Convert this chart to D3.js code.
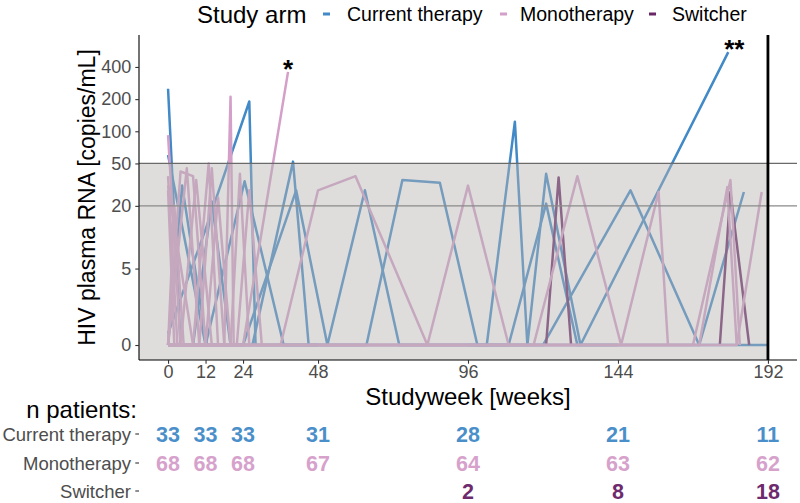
<!DOCTYPE html>
<html><head><meta charset="utf-8">
<script src="https://cdn.jsdelivr.net/npm/d3@7"></script>
<style>body{margin:0;background:#fff} text{font-family:"Liberation Sans",Arial,sans-serif}</style>
</head><body><svg id="c" width="800" height="503"></svg>
<script>
// ---------- data ----------
const arms = ["Current therapy", "Monotherapy", "Switcher"];
const armColors = ["#4189c7", "#d49fc9", "#6a2767"];
const textColors = ["#4a8fc9", "#d6a2cc", "#6e2a6c"];

// each patient: [week, HIV RNA copies/mL]
const currentTherapy = [
  [[0,250],[4,0],[12,0]],
  [[0,60],[12,0],[24,0]],
  [[0,0],[4.5,31],[12.4,0]],
  [[0,0.5],[12,12],[26,190],[28,0],[48,0]],
  [[12,0],[24.5,34],[37,0],[48,0]],
  [[0,0],[27,0],[40,52],[45,0]],
  [[0,0],[24,0],[41,28],[51,0],[63,28],[74,0],[96,0]],
  [[48,0],[63.5,0],[75,35],[87,33],[99,0],[120,0],[148,28],[170,0],[184.3,27]],
  [[96,0],[102,0],[111,123],[115,0],[121,40],[132,0],[179.3,550]],
  [[96,0],[109,0],[121,21],[131,0],[144,0]],
  [[0,0],[8,0],[14,22],[20,0]],
  [[0,0],[48,0],[96,0],[144,0],[182,0],[192,0]]
];
const monotherapy = [
  [[0,92],[4,0],[12,0],[24,0],[36,0],[48,0],[96,0],[144,0],[182,0],[190,27]],
  [[0,31],[8,0],[36,0],[48,28],[60,38],[83,0],[96,31],[109,0]],
  [[0,0],[4,42],[8,38],[12,0],[48,0],[96,0],[117,0],[131,38],[145,0],[157,27],[160,0]],
  [[0,0],[8,0],[13,50],[16,0],[96,0],[168,0],[180,35],[183,0]],
  [[0,0],[12,0],[16,24],[20,0]],
  [[0,0],[18,0],[20,210],[21,0],[24,0]],
  [[0,28],[2,0],[24,0],[38.4,360]],
  [[0,0],[4,0],[9,35],[14,0]],
  [[0,0],[22,0],[26,28],[30,0]],
  [[0,0],[6,45],[10,0]],
  [[0,38],[3,0],[12,0]],
  [[0,0],[10,0],[14,45],[18,0]],
  [[0,0],[20,0],[23,40],[26,0]],
  [[0,0],[2,20],[5,0]],
  [[0,0],[170,0],[179,30],[182,0]]
];
const switcher = [
  [[121,0],[125,37],[129,0]],
  [[176.6,0],[180,27],[186,0]]
];
const weekTicks = [0, 12, 24, 48, 96, 144, 192];
const rnaTicks = [0, 5, 20, 50, 100, 200, 400];
const nWeeks = [0, 12, 24, 48, 96, 144, 192];
const nCurrent = [33, 33, 33, 31, 28, 21, 11];
const nMono = [68, 68, 68, 67, 64, 63, 62];
const nSwitch = [null, null, null, null, 2, 8, 18];
const threshold = 50, lowerLimit = 20, studyEnd = 192;
const marks = [{week: 38.4, value: 360, label: "*", dx: 0}, {week: 179.3, value: 550, label: "**", dx: 6}];

// ---------- layout ----------
const svg = d3.select("#c");
const P = {l: 139, r: 797, t: 35, b: 360};
const tr = v => Math.asinh(v / 2);           // pseudo-log transform
const x = d3.scaleLinear().domain([-9.3, 201.3]).range([P.l, P.r]);
const yL = d3.scaleLinear().domain([-0.323, 6.68]).range([P.b, P.t]);
const y = v => yL(tr(v));

const line = d3.line().x(d => x(d[0])).y(d => y(d[1]));
const groups = [[currentTherapy, 0], [switcher, 2], [monotherapy, 1]];
const gl = svg.append("g");
groups.forEach(([pats, i]) => {
  gl.selectAll(null).data(pats).enter().append("path")
    .attr("d", line).attr("fill", "none")
    .attr("stroke", armColors[i]).attr("stroke-width", 2.5)
    .attr("stroke-linejoin", "round").attr("stroke-linecap", "butt");
});

// shaded band below threshold
svg.append("rect").attr("x", P.l).attr("y", y(threshold))
  .attr("width", x(studyEnd) - P.l).attr("height", P.b - y(threshold))
  .attr("fill", "rgb(182,179,177)").attr("fill-opacity", 0.45);

svg.append("line").attr("x1", P.l).attr("x2", P.r).attr("y1", y(threshold)).attr("y2", y(threshold))
  .attr("stroke", "#6a6a6a").attr("stroke-width", 1.3);
svg.append("line").attr("x1", P.l).attr("x2", P.r).attr("y1", y(lowerLimit)).attr("y2", y(lowerLimit))
  .attr("stroke", "#8a8a8a").attr("stroke-width", 1.1);
svg.append("line").attr("x1", x(studyEnd)).attr("x2", x(studyEnd)).attr("y1", P.t).attr("y2", P.b)
  .attr("stroke", "#000").attr("stroke-width", 2.8);

// annotations
svg.selectAll(null).data(marks).enter().append("text")
  .attr("x", d => x(d.week) + d.dx).attr("y", d => y(d.value) + 6)
  .attr("text-anchor", "middle").attr("font-size", 26).attr("font-weight", "bold")
  .text(d => d.label);

// axes
const yAxis = d3.axisLeft(yL).tickValues(rnaTicks.map(tr)).tickFormat((d, i) => rnaTicks[i]).tickSize(3.7).tickPadding(4);
const gy = svg.append("g").attr("transform", `translate(${P.l},0)`).call(yAxis);
const xAxis = d3.axisBottom(x).tickValues(weekTicks).tickSize(3.7).tickPadding(2);
const gx = svg.append("g").attr("transform", `translate(0,${P.b})`).call(xAxis);
[gx, gy].forEach(g => {
  g.select(".domain").attr("stroke", "#000").attr("stroke-width", 1.1);
  g.selectAll(".tick line").attr("stroke", "#333").attr("stroke-width", 1.1);
  g.selectAll(".tick text").attr("fill", "#4d4d4d").attr("font-size", 18)
    .attr("font-family", "Liberation Sans, Arial, sans-serif");
});
gy.select(".domain").attr("d", `M0,${P.t}V${P.b}`);
gx.select(".domain").attr("d", `M${P.l},0H${P.r}`);

// axis titles
svg.append("text").attr("transform", `translate(95,${(P.t + P.b) / 2}) rotate(-90)`)
  .attr("text-anchor", "middle").attr("font-size", 23).text("HIV plasma RNA [copies/mL]");
svg.append("text").attr("x", (P.l + P.r) / 2).attr("y", 405)
  .attr("text-anchor", "middle").attr("font-size", 24).text("Studyweek [weeks]");

// legend
svg.append("text").attr("x", 197).attr("y", 22.5).attr("font-size", 24).text("Study arm");
const legX = [[323, 347], [500, 520], [649, 672]];
arms.forEach((a, i) => {
  svg.append("line").attr("x1", legX[i][0]).attr("x2", legX[i][0] + 7).attr("y1", 14).attr("y2", 14)
    .attr("stroke", armColors[i]).attr("stroke-width", 3);
  svg.append("text").attr("x", legX[i][1]).attr("y", 20.5).attr("font-size", 19.5).text(a);
});

// n patients table
svg.append("text").attr("x", 137).attr("y", 417.5).attr("text-anchor", "end")
  .attr("font-size", 24).text("n patients:");
const rowY = [434, 463, 491];
const rows = [nCurrent, nMono, nSwitch];
arms.forEach((a, i) => {
  svg.append("text").attr("x", 131).attr("y", rowY[i] + 6.6).attr("text-anchor", "end")
    .attr("font-size", 18.5).attr("fill", "#4d4d4d").text(a);
  svg.append("line").attr("x1", 135.3).attr("x2", 139).attr("y1", rowY[i]).attr("y2", rowY[i])
    .attr("stroke", "#333").attr("stroke-width", 1.1);
  svg.selectAll(null).data(nWeeks.map((w, j) => [w, rows[i][j]]).filter(d => d[1] != null))
    .enter().append("text").attr("x", d => x(d[0])).attr("y", rowY[i] + 7.5)
    .attr("text-anchor", "middle").attr("font-size", 21.5).attr("font-weight", "bold")
    .attr("fill", textColors[i]).text(d => d[1]);
});
</script></body></html>
